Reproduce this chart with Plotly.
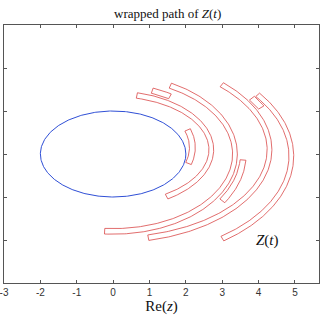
import numpy as np
import plotly.graph_objects as go

# x tick values / labels
x_ticks = [-3, -2, -1, 0, 1, 2, 3, 4, 5, 6]
y_ticks = [-3, -2, -1, 0, 1, 2, 3]

# blue reference ellipse (center, semi-axes)
ell_cx, ell_cy, ell_a, ell_b = 0.0, 0.0, 2.0, 1.0

# red wrapped-path strips: elliptic arcs (center, semi-axes, angle range in deg, strip width)
arc_cx = [0.0, 0.0, 0.0, 0.0, 0.0, 0.0, 0.0, 0.3]
arc_cy = [0.15, 0.1, 0.1, 0.0, 0.0, 0.1, 0.1, -0.05]
arc_a = [2.18, 2.7, 2.87, 3.35, 3.58, 4.3, 4.55, 4.6]
arc_b = [1.2, 1.3, 1.48, 1.8, 2.0, 2.1, 2.2, 2.37]
arc_t0 = [20, 76, 68, 62, -4, 46, 33, 37]
arc_t1 = [-18, -57, 57, -94, -33, -77, 26.5, -54]
arc_w = [0.16, 0.13, 0.13, 0.13, 0.16, 0.13, 0.16, 0.13]

label_text = "<i>Z</i>(<i>t</i>)"
label_x, label_y = 4.25, -2.0

fig = go.Figure()

t = np.linspace(0, 2 * np.pi, 400)
fig.add_trace(go.Scatter(x=ell_cx + ell_a * np.cos(t), y=ell_cy + ell_b * np.sin(t),
                         mode="lines", line=dict(color="#2f4fd6", width=1), hoverinfo="skip"))

for cx, cy, a, b, t0, t1, w in zip(arc_cx, arc_cy, arc_a, arc_b, arc_t0, arc_t1, arc_w):
    tt = np.radians(np.linspace(t0, t1, 200))
    xo = cx + (a + w / 2) * np.cos(tt)
    yo = cy + (b + w / 2) * np.sin(tt)
    xi = cx + (a - w / 2) * np.cos(tt[::-1])
    yi = cy + (b - w / 2) * np.sin(tt[::-1])
    xs = np.concatenate([xo, xi, xo[:1]])
    ys = np.concatenate([yo, yi, yo[:1]])
    fig.add_trace(go.Scatter(x=xs, y=ys, mode="lines",
                             line=dict(color="#d94848", width=0.8), hoverinfo="skip"))

fig.add_annotation(x=label_x, y=label_y, text=label_text, showarrow=False,
                   font=dict(family="Liberation Serif", size=15, color="#111111"))
fig.add_annotation(x=1.5, y=3, yref="y", text="wrapped path of " + label_text, showarrow=False,
                   yanchor="bottom", yshift=2,
                   font=dict(family="Liberation Serif", size=13, color="#111111"))

axis_common = dict(showgrid=False, zeroline=False, showline=True, linecolor="#555555",
                   linewidth=1, ticks="inside", ticklen=3, tickcolor="#555555", mirror="ticks")

fig.update_layout(
    width=320, height=320, showlegend=False,
    margin=dict(l=3, r=0, t=25, b=37),
    plot_bgcolor="white", paper_bgcolor="white",
    xaxis=dict(range=[-3, 5.66], tickvals=x_ticks, ticktext=[str(v) for v in x_ticks],
               ticklabeloverflow="allow",
               tickfont=dict(family="Liberation Sans", size=10, color="#333333"),
               title=dict(text="Re(<i>z</i>)", font=dict(family="Liberation Serif", size=15, color="#111111"),
                          standoff=2),
               **axis_common),
    yaxis=dict(range=[-3, 3], tickvals=y_ticks, showticklabels=False, **axis_common),
)

fig.write_html("out.html", config={"displayModeBar": False},
               post_script="document.body.style.margin='0';document.body.style.overflow='hidden';")
